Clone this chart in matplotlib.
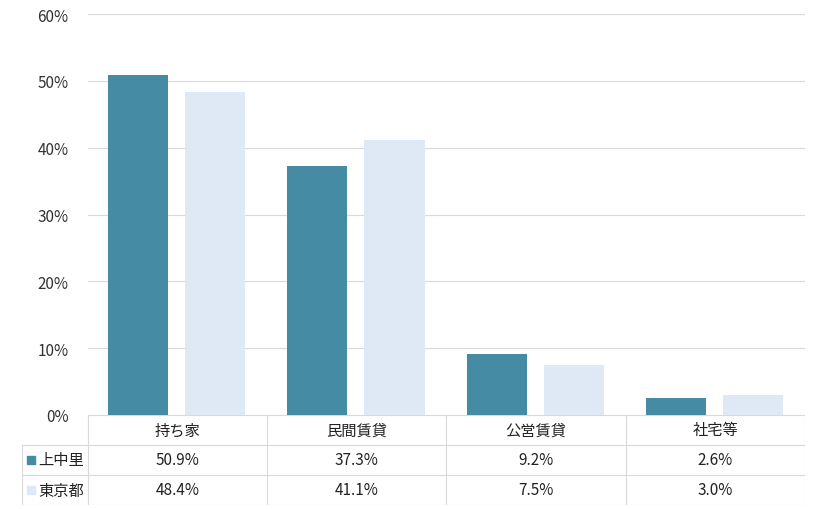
import matplotlib.pyplot as plt
from matplotlib.patches import Rectangle

plt.rcParams['font.family'] = ['Noto Sans CJK JP', 'DejaVu Sans']

categories = ['持ち家', '民間賃貸', '公営賃貸', '社宅等']
series_names = ['上中里', '東京都']
kaminakazato = [50.9, 37.3, 9.2, 2.6]
tokyo = [48.4, 41.1, 7.5, 3.0]
colors = ['#458BA4', '#DEE9F5']
grid_c = '#d9d9d9'

fig = plt.figure(figsize=(8.2, 5.1), dpi=100)
ax = fig.add_axes([88/820, 94/510, 717/820, 401/510])
x = range(len(categories))
w = 0.335
ax.bar([i - 0.22 for i in x], kaminakazato, w, color=colors[0], zorder=3)
ax.bar([i + 0.21 for i in x], tokyo, w, color=colors[1], zorder=3)
ax.set_xlim(-0.5, 3.5)
ax.set_ylim(0, 60)
ax.set_yticks(range(0, 61, 10))
ax.set_yticklabels([f'{v}%' for v in range(0, 61, 10)], fontsize=11, color='#333333')
ax.yaxis.grid(True, color=grid_c, lw=0.8, zorder=0)
ax.set_xticks([])
ax.tick_params(axis='y', length=0, pad=14)
for s in ax.spines.values():
    s.set_visible(False)

# data table
tx = fig.add_axes([22/820, 4/510, 783/820, 90/510])
tx.set_xlim(22, 805)
tx.set_ylim(506, 416)
tx.axis('off')
col_w = 717 / len(categories)
rows_y = [416, 446, 476, 506]
lk = dict(color=grid_c, lw=0.8)
tx.plot([88, 805], [416, 416], **lk)
for yy in rows_y[1:]:
    tx.plot([22, 805], [yy, yy], **lk)
tx.plot([22, 22], [446, 506], **lk)
for j in range(len(categories) + 1):
    xx = 88 + j * col_w
    tx.plot([xx, xx], [416, 506], **lk)
for j, c in enumerate(categories):
    cx = 88 + (j + 0.5) * col_w
    tx.text(cx, 431, c, ha='center', va='center', fontsize=11, color='#222222')
    for r, vals in enumerate([kaminakazato, tokyo]):
        tx.text(cx, 461 + 30 * r, f'{vals[j]:.1f}%', ha='center', va='center',
                fontsize=11, color='#222222')
for r, name in enumerate(series_names):
    cy = 461 + 30 * r
    tx.add_patch(Rectangle((27, cy - 4), 8, 8, color=colors[r]))
    tx.text(38, cy, name, ha='left', va='center', fontsize=11, color='#222222')

fig.savefig('out.png', dpi=100)
